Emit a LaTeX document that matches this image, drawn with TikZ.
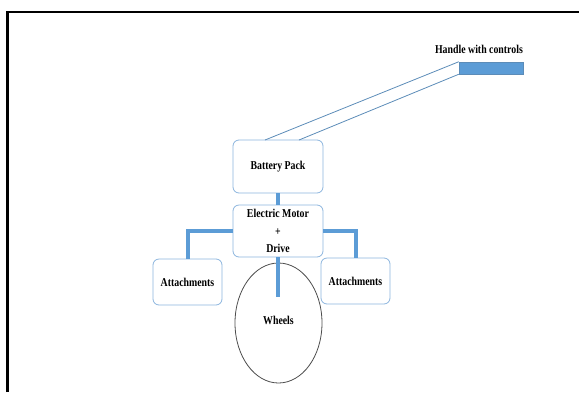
\documentclass[tikz,border=0pt]{standalone}
\usepackage{fontspec}
\setmainfont{Liberation Serif}[FakeStretch=0.82]
\usepackage{tikz}
\usetikzlibrary{shapes.geometric}
\usepackage{color}
\definecolor{barblue}{rgb}{0.36, 0.61, 0.84}
\definecolor{edgeblue}{rgb}{0.55, 0.71, 0.87}
\definecolor{wireblue}{rgb}{0.36, 0.55, 0.72}
\tikzset{
	part/.style={draw=edgeblue, line width=0.8pt, rounded corners=6pt, fill=white, align=center, inner sep=0pt},
	link/.style={draw=barblue, line width=4pt},
	wire/.style={draw=wireblue, line width=0.8pt},
	lbl/.style={font=\bfseries\fontsize{12}{17.5}\selectfont}
}

\begin{document}
\begin{tikzpicture}[x=1pt, y=-1pt]
			\useasboundingbox (0,0) rectangle (579,392);
			\draw [line width=2.5pt] (7.5,392) -- (7.5,12) -- (579,12);
			\node [fill=barblue, draw=wireblue, line width=0.5pt, minimum width=64pt, minimum height=12pt, inner sep=0pt] (bar) at (491,68) {};
			\node [lbl] (handle) at (479,49) {Handle with controls};
			\node [part, lbl, minimum width=90pt, minimum height=53pt] (bat) at (278,166.5) {Battery Pack};
			\node [part, lbl, minimum width=90pt, minimum height=52pt] (motor) at (278,231) {Electric Motor\\+\\Drive};
			\node [part, lbl, minimum width=69pt, minimum height=46pt] (attl) at (187.5,282) {Attachments};
			\node [part, lbl, minimum width=69pt, minimum height=46pt] (attr) at (355.5,281) {Attachments};
			\node [ellipse, draw=black!70, line width=0.8pt, minimum width=87pt, minimum height=120pt, inner sep=0pt] (wheels) at (278.5,323) {};
			\node [lbl] (wtext) at (278.5,320) {Wheels};
			\coordinate (hub) at (278,297);
			\coordinate (w1) at (265,140);
			\coordinate (w2) at (299,140);
			\draw [wire] (bar.north west) -- (w1);
			\draw [wire] (bar.south west) -- (w2);
			\draw [link] (bat.south) -- (motor.north);
			\draw [link] (motor.west) -| (attl.north);
			\draw [link] (motor.east) -| (attr.north);
			\draw [link] (motor.south) -- (hub);
		\end{tikzpicture}
\end{document}
